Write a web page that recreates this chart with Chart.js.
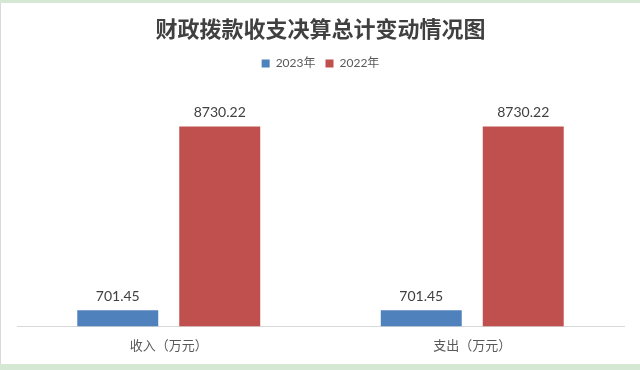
<!DOCTYPE html>
<html lang="zh">
<head>
    <meta charset="UTF-8">
    <title>财政拨款收支决算总计变动情况图</title>
    <script src="https://cdn.jsdelivr.net/npm/chart.js"></script>
    <style>
        html, body { margin: 0; padding: 0; }
        body { width: 640px; height: 370px; background: #d5e8d4; overflow: hidden; }
        .box { position: absolute; left: 0; top: 3px; width: 639px; height: 361px; background: #fff; border-left: 1px solid #d9d9d9; }
    </style>
</head>
<body>
    <div class="box">
        <canvas id="budgetChart" width="639" height="361"></canvas>
    </div>

    <script>
        // chart data
        const categories = ['收入（万元）', '支出（万元）'];
        const seriesNames = ['2023年', '2022年'];
        const values2023 = [701.45, 701.45];
        const values2022 = [8730.22, 8730.22];

        const cjk = '"Noto Sans CJK SC", sans-serif';
        const num = 'Lato, "Noto Sans CJK SC", sans-serif';

        // draw value labels above each bar
        const valueLabels = {
            id: 'valueLabels',
            afterDatasetsDraw(chart) {
                const ctx = chart.ctx;
                ctx.save();
                ctx.font = '14px ' + num;
                ctx.fillStyle = '#404040';
                ctx.textAlign = 'center';
                ctx.textBaseline = 'bottom';
                chart.data.datasets.forEach((ds, i) => {
                    chart.getDatasetMeta(i).data.forEach((bar, j) => {
                        ctx.fillText(ds.data[j].toFixed(2), bar.x, bar.y - 7);
                    });
                });
                ctx.restore();
            }
        };

        // extra room between legend and plot
        const legendGap = {
            id: 'legendGap',
            beforeInit(chart) {
                const fit = chart.legend.fit;
                chart.legend.fit = function () {
                    fit.bind(chart.legend)();
                    this.height += 18;
                };
            }
        };

        const ctx = document.getElementById('budgetChart').getContext('2d');
        new Chart(ctx, {
            type: 'bar',
            data: {
                labels: categories,
                datasets: [{
                    label: seriesNames[0],
                    data: values2023,
                    backgroundColor: '#4f81bd',
                    categoryPercentage: 0.672,
                    barPercentage: 0.794
                }, {
                    label: seriesNames[1],
                    data: values2022,
                    backgroundColor: '#c0504d',
                    categoryPercentage: 0.672,
                    barPercentage: 0.794
                }]
            },
            options: {
                responsive: false,
                animation: false,
                layout: { padding: { left: 16, right: 16, bottom: 0 } },
                plugins: {
                    title: {
                        display: true,
                        text: '财政拨款收支决算总计变动情况图',
                        color: '#404040',
                        font: { family: cjk, size: 22, weight: 'bold' },
                        padding: { top: 12, bottom: 6 }
                    },
                    legend: {
                        position: 'top',
                        labels: {
                            color: '#595959',
                            font: { family: num, size: 12 },
                            boxWidth: 8,
                            boxHeight: 8,
                            padding: 10
                        }
                    },
                    tooltip: { enabled: false }
                },
                scales: {
                    x: {
                        grid: { display: false, drawTicks: false },
                        border: { color: '#d9d9d9', width: 1 },
                        ticks: {
                            color: '#595959',
                            font: { family: cjk, size: 13 },
                            padding: 11
                        }
                    },
                    y: {
                        display: false,
                        min: 0,
                        max: 10000
                    }
                }
            },
            plugins: [valueLabels, legendGap]
        });
    </script>
</body>
</html>
